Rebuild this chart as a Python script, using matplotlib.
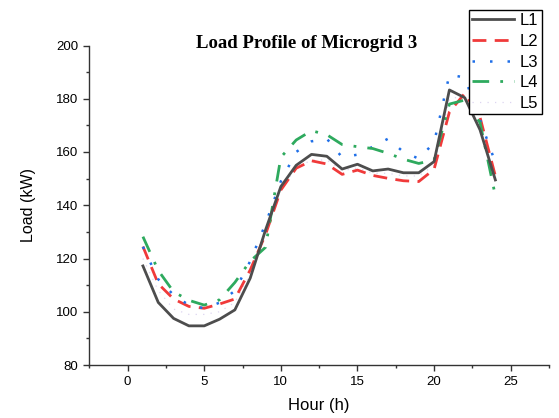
import matplotlib
matplotlib.use("Agg")
import matplotlib.pyplot as plt
from matplotlib.ticker import MultipleLocator

hours = list(range(1, 25))
L1 = [117.2, 103.5, 97.5, 94.7, 94.7, 97.2, 100.7, 112.6, 130.7, 147.0, 155.0, 159.1,
      158.4, 153.6, 155.4, 152.9, 153.6, 152.2, 152.2, 156.4, 183.3, 180.4, 168.3, 149.5]
L2 = [124.5, 110.5, 104.8, 102.0, 101.3, 102.9, 104.8, 115.7, 129.0, 145.7, 153.9, 156.7,
      155.5, 151.6, 153.2, 151.2, 150.1, 149.2, 148.9, 153.5, 175.0, 182.0, 173.0, 151.0]
L3 = [124.4, 112.2, 106.3, 102.5, 101.3, 103.4, 107.9, 119.0, 133.0, 149.0, 160.0, 164.0,
      165.0, 158.0, 159.0, 162.0, 165.0, 160.0, 157.5, 163.5, 189.0, 188.0, 172.0, 156.0]
L4 = [128.2, 115.5, 107.5, 104.3, 102.5, 104.5, 111.0, 119.0, 124.2, 158.0, 164.5, 168.0,
      166.5, 162.8, 162.0, 161.3, 159.5, 157.3, 155.7, 157.0, 178.0, 179.5, 171.0, 143.5]
L5 = [120.0, 108.0, 101.0, 99.0, 99.0, 100.0, 103.5, 114.0, 130.0, 146.0, 154.0, 157.0,
      157.0, 153.0, 154.0, 152.0, 152.0, 151.0, 151.0, 155.0, 180.0, 181.0, 170.0, 150.0]
labels = ["L1", "L2", "L3", "L4", "L5"]

fig = plt.figure(figsize=(5.59, 4.18), dpi=100)
ax = fig.add_axes([89.3/559, 1-365/418, (549-89.3)/559, (365-45.5)/418])

ax.plot(hours, L1, color="#4d4d4d", lw=2.0, label=labels[0], zorder=5)
ax.plot(hours, L2, color="#f03a3a", lw=2.0, dashes=(5, 3), label=labels[1], zorder=3)
ax.plot(hours, L3, color="#1f6fe8", lw=1.8, dashes=(1, 6), label=labels[2], zorder=3)
ax.plot(hours, L4, color="#2eaa5e", lw=2.0, dashes=(6, 4, 1, 4), label=labels[3], zorder=3)
ax.plot(hours, L5, color="#ddd5f0", lw=0.9, dashes=(1, 5), label=labels[4], zorder=2)

ax.set_xlim(-2.5, 27.5)
ax.set_ylim(80, 200)
ax.xaxis.set_major_locator(MultipleLocator(5))
ax.xaxis.set_minor_locator(MultipleLocator(2.5))
ax.yaxis.set_major_locator(MultipleLocator(20))
ax.yaxis.set_minor_locator(MultipleLocator(10))
for s in ["top", "right"]:
    ax.spines[s].set_visible(False)
for s in ["left", "bottom"]:
    ax.spines[s].set_linewidth(1.0)
    ax.spines[s].set_color("#333333")
ax.tick_params(which="major", direction="out", length=4, width=1, labelsize=9.5,
               colors="#333333", labelcolor="black", pad=4)
ax.tick_params(which="minor", direction="out", length=2.5, width=1, colors="#333333")
for lab in ax.get_xticklabels() + ax.get_yticklabels():
    lab.set_family("Liberation Sans")

ax.set_xlabel("Hour (h)", fontsize=12, family="Liberation Sans", labelpad=7)
ax.set_ylabel("Load (kW)", fontsize=11.5, family="Liberation Sans", labelpad=14)

fig.text(307/559, 1-43.5/418, "Load Profile of Microgrid 3", ha="center", va="center",
         fontsize=13.5, fontweight="bold", family="Liberation Serif")

leg = fig.legend(loc="upper left", bbox_to_anchor=(469/559, 1-10/418),
                 borderaxespad=0, frameon=True, fancybox=False, framealpha=1,
                 edgecolor="black", handlelength=2.5, handletextpad=0.35,
                 labelspacing=0.34, borderpad=0.2,
                 prop={"family": "Liberation Sans", "size": 12})
leg.get_frame().set_linewidth(1.0)

fig.savefig("out.png", dpi=100)
